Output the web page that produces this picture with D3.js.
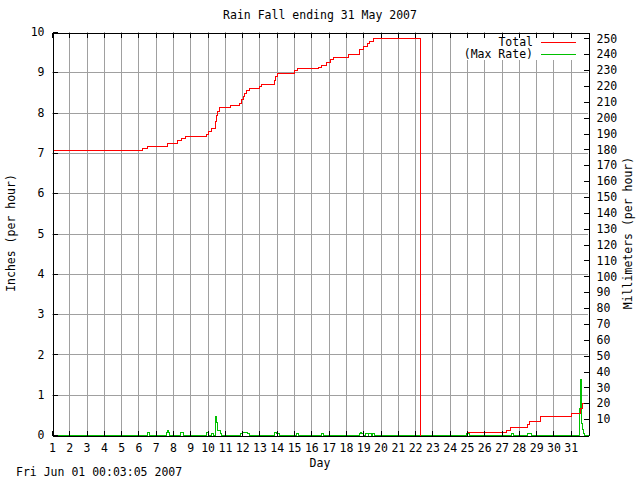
<!DOCTYPE html>
<html>
<head>
<meta charset="utf-8">
<script src="https://cdn.jsdelivr.net/npm/d3@7"></script>
<style>
html,body{margin:0;padding:0;background:#fff;}
text{font-family:"DejaVu Sans Mono",monospace;font-size:11.5px;fill:#000;}
</style>
</head>
<body>
<svg id="chart" width="640" height="480"></svg>
<script>
// ---- data ----
const title = "Rain Fall ending 31 May 2007";
const timestamp = "Fri Jun 01 00:03:05 2007";
const dayTicks = d3.range(1, 32);           // 1..31
const inchTicks = d3.range(0, 11);          // 0..10
const mmTicks = d3.range(10, 251, 10);      // 10..250

// cumulative total (inches), step-after; NaN = gap
const totalDays = [1, 6.22, 6.5, 7.66, 8.25, 8.45, 8.7, 9.93, 10.05, 10.2, 10.42, 10.5, 10.56, 10.66, 11.28, 11.8, 11.92, 12.02, 12.12, 12.24, 12.4, 12.95, 13.1, 13.83, 13.92, 14.02, 15.0, 15.15, 16.4, 16.57, 16.82, 17.05, 17.28, 18.12, 18.78, 18.98, 19.2, 19.36, 19.55, 22.29, 22.29, 24.98, 27.25, 27.47, 28.5, 28.6, 29.2, 31.0, 31.55, 31.66, 32.0];
const totalInches = [7.06, 7.11, 7.18, 7.25, 7.31, 7.36, 7.41, 7.47, 7.55, 7.62, 7.8, 7.95, 8.05, 8.13, 8.19, 8.25, 8.33, 8.41, 8.49, 8.55, 8.61, 8.66, 8.71, 8.8, 8.9, 8.98, 9.06, 9.11, 9.14, 9.19, 9.25, 9.32, 9.38, 9.46, 9.57, 9.66, 9.72, 9.78, 9.85, 0, NaN, 0.08, 0.12, 0.20, 0.28, 0.35, 0.47, 0.54, 0.66, 0.79, 0.79];

// max rate (inches per hour), step-after
const rateDays = [1, 6.47, 6.62, 7.62, 7.67, 7.72, 7.77, 8.39, 8.58, 9.9, 10.05, 10.18, 10.3, 10.4, 10.43, 10.47, 10.52, 10.7, 10.8, 11.85, 12.0, 12.3, 12.4, 13.82, 13.95, 14.1, 15.1, 15.22, 16.55, 16.7, 18.75, 18.82, 18.9, 19.0, 19.1, 19.25, 19.3, 19.45, 19.5, 19.62, 24.95, 25.1, 27.55, 27.67, 28.47, 28.73, 31.5, 31.56, 31.6, 31.65, 31.72, 31.78, 32.0];
const rateInches = [0, 0.07, 0, 0.07, 0.12, 0.07, 0, 0.07, 0, 0.07, 0, 0.05, 0, 0.25, 0.47, 0.33, 0.12, 0.05, 0, 0.05, 0.07, 0.05, 0, 0.07, 0.05, 0, 0.05, 0, 0.05, 0, 0.05, 0.08, 0.05, 0, 0.05, 0, 0.05, 0, 0.05, 0, 0.05, 0, 0.05, 0, 0.05, 0, 0.66, 1.39, 0.3, 0.15, 0.05, 0, 0];

// ---- layout ----
const L = 52, R = 588, T = 32, B = 435;
const svg = d3.select("#chart");
const x = d3.scaleLinear().domain([1, 32]).range([L, R]);
const y = d3.scaleLinear().domain([0, 10]).range([B, T]);
const y2 = d3.scaleLinear().domain([0, 254]).range([B, T]);

// gridlines
const grid = svg.append("g").attr("stroke", "#a0a0a0").attr("stroke-width", 1).attr("shape-rendering", "crispEdges");
grid.selectAll("line.v").data(dayTicks.filter(d => d > 1)).join("line")
  .attr("x1", d => Math.round(x(d)) + 0.5).attr("x2", d => Math.round(x(d)) + 0.5)
  .attr("y1", T).attr("y2", B);
grid.selectAll("line.h").data(inchTicks.filter(d => d > 0 && d < 10)).join("line")
  .attr("x1", L).attr("x2", R)
  .attr("y1", d => Math.round(y(d)) + 0.5).attr("y2", d => Math.round(y(d)) + 0.5);

// legend background
svg.append("rect").attr("x", 459).attr("y", 34).attr("width", 127).attr("height", 26).attr("fill", "#fff");

// data lines
const totalData = totalDays.map((d, i) => [d, totalInches[i]]);
const rateData = rateDays.map((d, i) => [d, rateInches[i]]);
const line = d3.line().defined(d => !isNaN(d[1]))
  .x(d => Math.round(x(d[0])) + 0.5).y(d => Math.round(y(d[1])) + 0.5).curve(d3.curveStepAfter);

svg.append("path").datum(rateData).attr("d", line)
  .attr("fill", "none").attr("stroke", "#00c000").attr("stroke-width", 1).attr("shape-rendering", "crispEdges");
svg.append("path").datum(totalData).attr("d", line)
  .attr("fill", "none").attr("stroke", "#ff0000").attr("stroke-width", 1).attr("shape-rendering", "crispEdges");

// axes
function style(g) {
  g.selectAll("path.domain").attr("stroke", "#000").attr("shape-rendering", "crispEdges");
  g.selectAll(".tick line").attr("stroke", "#000").attr("shape-rendering", "crispEdges");
  g.selectAll("text").attr("fill", "#000");
  g.attr("font-family", null).attr("font-size", null);
}
svg.append("g").attr("transform", `translate(0,${B + 0.5})`)
  .call(d3.axisBottom(x).tickValues(dayTicks).tickFormat(d3.format("d")).tickSize(-5).tickSizeOuter(0).tickPadding(8))
  .call(style);
svg.append("g").attr("transform", `translate(0,${T + 0.5})`)
  .call(d3.axisTop(x).tickValues(dayTicks).tickFormat("").tickSize(-5).tickSizeOuter(0))
  .call(style);
svg.append("g").attr("transform", `translate(${L + 0.5},0)`)
  .call(d3.axisLeft(y).tickValues(inchTicks).tickFormat(d3.format("d")).tickSize(-5).tickSizeOuter(0).tickPadding(8))
  .call(style);
svg.append("g").attr("transform", `translate(${R + 0.5},0)`)
  .call(d3.axisRight(y2).tickValues(mmTicks).tickFormat(d3.format("d")).tickSize(-5).tickSizeOuter(0).tickPadding(8))
  .call(style);

// texts
svg.append("text").attr("x", 320).attr("y", 19).attr("text-anchor", "middle").text(title);
svg.append("text").attr("x", 320).attr("y", 467).attr("text-anchor", "middle").text("Day");
svg.append("text").attr("x", 16).attr("y", 476).text(timestamp);
svg.append("text").attr("transform", "translate(11,233) rotate(-90)").attr("text-anchor", "middle")
  .attr("dominant-baseline", "central").text("Inches (per hour)");
svg.append("text").attr("transform", "translate(628,233) rotate(-90)").attr("text-anchor", "middle")
  .attr("dominant-baseline", "central").text("Millimeters (per hour)");

// legend
const legendLabels = ["Total", "(Max Rate)"];
const legendColors = ["#ff0000", "#00c000"];
const lg = svg.append("g").style("font-size", "11px");
legendLabels.forEach((lab, i) => {
  const yy = 41.5 + i * 12.5;
  lg.append("text").attr("x", 533).attr("y", yy + 4).attr("text-anchor", "end").text(lab);
  lg.append("line").attr("x1", 541).attr("x2", 576).attr("y1", Math.round(yy) + 0.5).attr("y2", Math.round(yy) + 0.5)
    .attr("stroke", legendColors[i]).attr("stroke-width", 1).attr("shape-rendering", "crispEdges");
});
</script>
</body>
</html>
